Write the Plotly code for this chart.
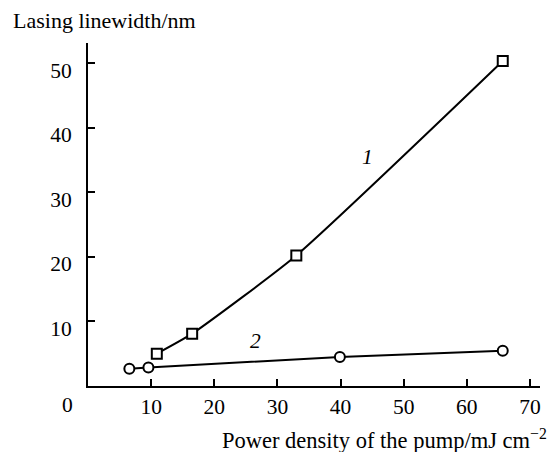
import plotly.graph_objects as go

# Curve 1 (squares)
x1 = [10.9, 16.5, 33.0, 65.7]
y1 = [5.0, 8.1, 20.2, 50.3]
# Curve 2 (circles)
x2 = [6.55, 9.57, 39.9, 65.7]
y2 = [2.66, 2.86, 4.5, 5.45]

xticks = [10, 20, 30, 40, 50, 60, 70]
yticks = [10, 20, 30, 40, 50]

FONT = "Liberation Serif"
FS = 21.5
FT = 22.5

fig = go.Figure()
fig.add_trace(go.Scatter(
    x=x1, y=y1, mode="lines+markers",
    line=dict(color="black", width=2, shape="spline", smoothing=0.5),
    marker=dict(symbol="square", size=10, color="white", line=dict(width=2, color="black")),
    showlegend=False, cliponaxis=False))
fig.add_trace(go.Scatter(
    x=x2, y=y2, mode="lines+markers",
    line=dict(color="black", width=2),
    marker=dict(symbol="circle", size=10, color="white", line=dict(width=2, color="black")),
    showlegend=False, cliponaxis=False))

fig.add_annotation(x=44.3, y=35.5, text="<i>1</i>", showarrow=False,
                   font=dict(family=FONT, size=FS, color="black"))
fig.add_annotation(x=26.5, y=6.9, text="<i>2</i>", showarrow=False,
                   font=dict(family=FONT, size=FS, color="black"))

# origin label
fig.add_annotation(xref="paper", yref="paper", x=-0.0445, y=-0.0554, text="0",
                   xanchor="center", yanchor="middle",
                   showarrow=False, font=dict(family=FONT, size=FS, color="black"))
# axis titles
fig.add_annotation(xref="paper", yref="paper", x=-0.17, y=1.067, xanchor="left", yanchor="middle",
                   text="Lasing linewidth/nm", showarrow=False,
                   font=dict(family=FONT, size=22, color="black"))
fig.add_annotation(xref="paper", yref="paper", x=1.021, y=-0.155, xanchor="right", yanchor="middle",
                   text="Power density of the pump/mJ cm<sup>\u22122</sup>", showarrow=False,
                   font=dict(family=FONT, size=FT, color="black"))

axis_common = dict(showline=True, linecolor="black", linewidth=2, ticks="inside",
                   ticklen=7, tickwidth=1.5, tickcolor="black", showgrid=False, zeroline=False,
                   mirror=False, tickfont=dict(family=FONT, size=FS, color="black"))
fig.update_xaxes(range=[0, 71.6], tickvals=xticks, ticktext=[str(v) for v in xticks],
                 ticklabelstandoff=0, **axis_common)
fig.update_yaxes(range=[0, 53.1], tickvals=yticks, ticktext=[str(v) for v in yticks],
                 ticklabelstandoff=10, ticklabelshift=7, **axis_common)

# page body has an 8px margin, so the figure is shifted by 8px; compensate
fig.update_layout(width=547, height=444, margin=dict(l=80, r=15, t=35, b=66),
                  plot_bgcolor="white", paper_bgcolor="white",
                  font=dict(family=FONT, size=FS, color="black"))
fig.write_html("out.html")
